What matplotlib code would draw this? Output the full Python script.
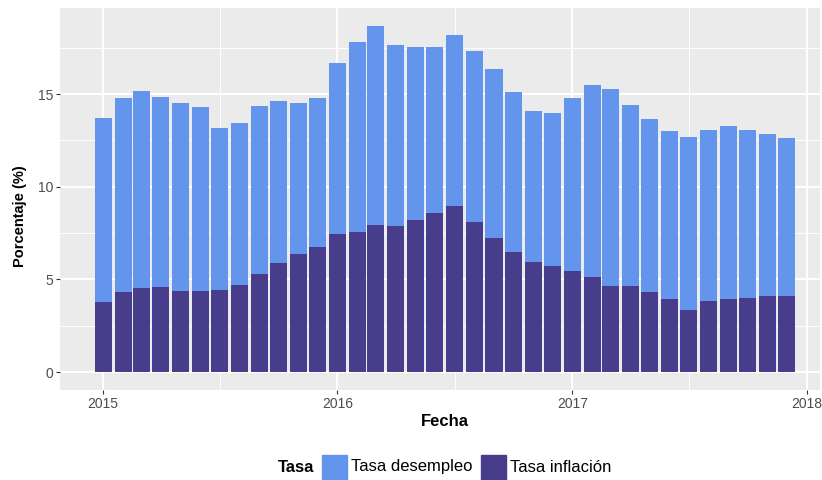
import numpy as np
import pandas as pd
import matplotlib
matplotlib.use("Agg")
import matplotlib.pyplot as plt
import matplotlib.dates as mdates
from matplotlib.patches import Rectangle

plt.rcParams["font.family"] = ["Liberation Sans", "DejaVu Sans"]

# ----------------------------
# Data
# ----------------------------

fechas = pd.date_range("2015-01-01", periods=36, freq="MS")

tasa_inflacion = [
    3.78, 4.32, 4.53, 4.59, 4.37, 4.37, 4.43, 4.70, 5.29, 5.88, 6.37, 6.75,
    7.45, 7.56, 7.93, 7.88, 8.20, 8.58, 8.96, 8.10, 7.23, 6.48, 5.94, 5.72,
    5.45, 5.13, 4.64, 4.64, 4.32, 3.94, 3.35, 3.83, 3.94, 3.99, 4.10, 4.10,
]

# top of the stacked bar (inflacion + desempleo)
total_barra = [
    13.71, 14.79, 15.16, 14.83, 14.51, 14.30, 13.17, 13.44, 14.35, 14.62, 14.51, 14.79,
    16.68, 17.81, 18.67, 17.65, 17.54, 17.54, 18.19, 17.32, 16.35, 15.11, 14.09, 13.98,
    14.79, 15.49, 15.27, 14.41, 13.65, 13.01, 12.68, 13.06, 13.28, 13.06, 12.84, 12.63,
]
tasa_desempleo = [t - i for t, i in zip(total_barra, tasa_inflacion)]

serie_labels = ["Tasa desempleo", "Tasa inflación"]
y_ticks = [0, 5, 10, 15]
x_years = ["2015", "2016", "2017", "2018"]

col_desempleo = "#6495ED"
col_inflacion = "#483D8B"
panel_bg = "#EBEBEB"


# ----------------------------
# Figure
# ----------------------------

W, H = 822, 480
fig = plt.figure(figsize=(W / 100, H / 100), dpi=100)
ax = fig.add_axes([60 / W, 90 / H, 760 / W, 382 / H])
ax.set_facecolor(panel_bg)

x = mdates.date2num(fechas)
ancho = 26.5

ax.bar(x, tasa_inflacion, width=ancho, color=col_inflacion, zorder=3)
ax.bar(x, tasa_desempleo, width=ancho, bottom=tasa_inflacion,
       color=col_desempleo, zorder=3)

x0 = mdates.date2num(pd.Timestamp("2015-01-01"))
ax.set_xlim(x0 - 67.3, x0 + 1117)
ax.set_ylim(-0.97, 19.64)

major_x = [mdates.date2num(pd.Timestamp(f"{y}-01-01")) for y in x_years]
minor_x = [(a + b) / 2 for a, b in zip(major_x[:-1], major_x[1:])]
ax.set_xticks(major_x)
ax.set_xticklabels(x_years)
ax.set_xticks(minor_x, minor=True)
ax.set_yticks(y_ticks)
ax.set_yticklabels([str(v) for v in y_ticks])
ax.set_yticks([2.5, 7.5, 12.5, 17.5], minor=True)

ax.grid(which="major", color="white", linewidth=1.4, zorder=0)
ax.grid(which="minor", color="white", linewidth=0.7, zorder=0)
ax.set_axisbelow(True)

for s in ax.spines.values():
    s.set_visible(False)

ax.tick_params(which="major", length=3, width=0.8, color="#333333",
               labelcolor="#4D4D4D", labelsize=10, pad=2)
ax.tick_params(which="minor", length=0)

# axis titles
fig.text(445 / W, 1 - 422 / H, "Fecha", ha="center", va="center",
         fontsize=12, fontweight="bold")
fig.text(20 / W, 1 - 216 / H, "Porcentaje (%)", ha="center", va="center",
         rotation=90, fontsize=10.5, fontweight="bold")

# ----------------------------
# Legend (bottom, horizontal)
# ----------------------------

ly = 1 - 467 / H
fig.text(278 / W, ly, "Tasa", ha="left", va="center",
         fontsize=12, fontweight="bold")
fig.add_artist(Rectangle((322 / W, 1 - 480 / H), 25 / W, 25 / H,
                         transform=fig.transFigure, color=col_desempleo))
fig.text(351 / W, ly, serie_labels[0], ha="left", va="center", fontsize=12)
fig.add_artist(Rectangle((481 / W, 1 - 480 / H), 25 / W, 25 / H,
                         transform=fig.transFigure, color=col_inflacion))
fig.text(510 / W, ly, serie_labels[1], ha="left", va="center", fontsize=12)

fig.savefig("out.png", dpi=100)
